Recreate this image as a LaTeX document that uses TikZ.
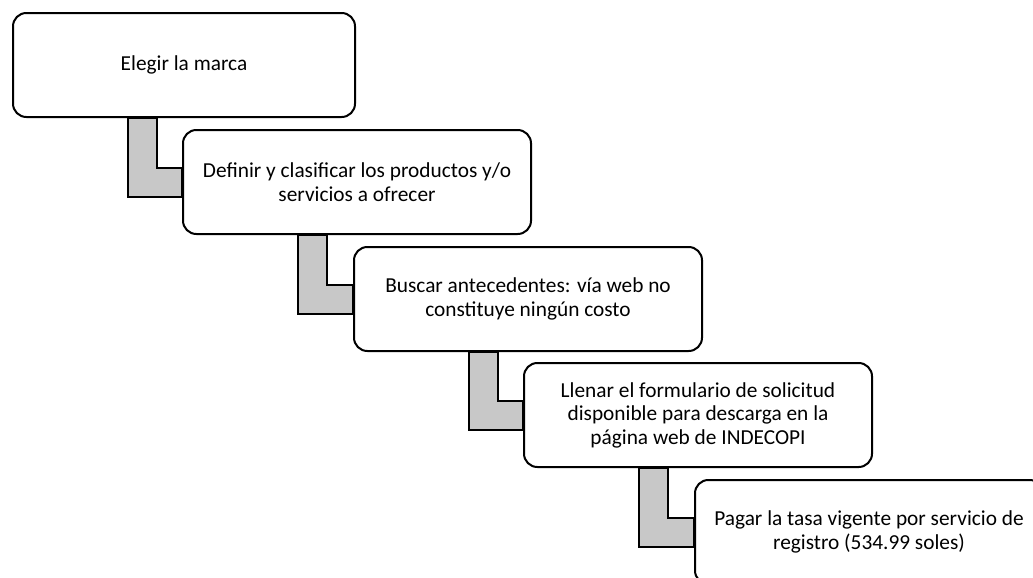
\documentclass[tikz,border=0pt]{standalone}
\usepackage{fontspec}
\setmainfont{Carlito}
\usepackage{tikz}
\usetikzlibrary{calc}
\definecolor{ink}{HTML}{000000}
\definecolor{barfill}{HTML}{C8C8C8}
\tikzset{
  paso/.style={draw=ink, fill=white, line width=1.5pt, rounded corners=10pt,
    anchor=north west, minimum width=261pt, minimum height=78pt, align=center,
    font=\fontsize{16}{17.6}\selectfont, inner sep=0pt},
  codo/.style={draw=ink, fill=barfill, line width=1pt, line join=miter},
}
\newcommand{\codo}[2]{%
  \draw[codo] ($(#1.south west)+(116,0)$) |- ($(#2.north west)+(0,68)$)
    -- ($(#2.north west)+(0,39)$) -| ($(#1.south west)+(145,0)$) -- cycle;}

\begin{document}
\begin{tikzpicture}[x=0.75pt,y=-0.75pt]
  \clip (0,0) rectangle (1033,578);

  \node[paso,minimum width=256.5pt] (marca) at (12,12) {Elegir la marca};
  \node[paso] (productos) at (182,129) {Definir y clasificar los productos y/o\\servicios a ofrecer};
  \node[paso] (antecedentes) at (353,246) {Buscar antecedentes: vía web no\\constituye ningún costo};
  \node[paso] (formulario) at (523,362) {Llenar el formulario de solicitud\\disponible para descarga en la\\página web de INDECOPI};
  \node[paso] (tasa) at (694,479) {Pagar la tasa vigente por servicio de\\registro (534.99 soles)};

  % grey elbows between the steps
  \codo{marca}{productos}
  \codo{productos}{antecedentes}
  \codo{antecedentes}{formulario}
  \codo{formulario}{tasa}
\end{tikzpicture}
\end{document}
